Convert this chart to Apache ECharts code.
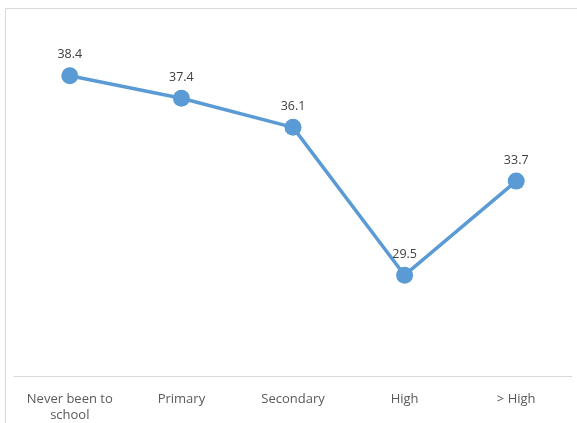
<!DOCTYPE html>
<html>
<head>
<meta charset="utf-8">
<script src="https://cdn.jsdelivr.net/npm/echarts@6/dist/echarts.min.js"></script>
<style>
  html, body { margin: 0; padding: 0; background: #fff; }
  #chart { width: 577px; height: 423px; }
</style>
</head>
<body>
<div id="chart"></div>
<script>
// Education level categories and their values
const categories = ['Never been to\nschool', 'Primary', 'Secondary', 'High', '> High'];
const values = [38.4, 37.4, 36.1, 29.5, 33.7];

const chart = echarts.init(document.getElementById('chart'), null, { renderer: 'canvas' });

chart.setOption({
  backgroundColor: '#ffffff',
  animation: false,
  graphic: [{
    type: 'rect',
    shape: { x: 5.5, y: 8.5, width: 600, height: 450 },
    style: { fill: 'none', stroke: '#d9d9d9', lineWidth: 1 },
    silent: true
  }],
  grid: { left: 14, right: 5, top: 40, bottom: 43.5, containLabel: false },
  xAxis: {
    type: 'category',
    data: categories,
    boundaryGap: true,
    axisLine: { show: true, lineStyle: { color: '#d9d9d9', width: 1 } },
    axisTick: { show: false },
    axisLabel: {
      color: '#595959',
      fontFamily: 'Open Sans',
      fontSize: 13,
      lineHeight: 16,
      margin: 15,
      interval: 0
    }
  },
  yAxis: {
    type: 'value',
    min: 25,
    max: 40,
    interval: 5,
    show: false,
    splitLine: { show: false }
  },
  series: [{
    type: 'line',
    data: values,
    symbol: 'circle',
    symbolSize: 17,
    lineStyle: { color: '#5b9bd5', width: 3.5 },
    itemStyle: { color: '#5b9bd5' },
    label: {
      show: true,
      position: 'top',
      distance: 6,
      color: '#404040',
      fontFamily: 'Open Sans',
      fontSize: 12.5,
      formatter: p => p.value.toFixed(1)
    }
  }]
});
</script>
</body>
</html>
